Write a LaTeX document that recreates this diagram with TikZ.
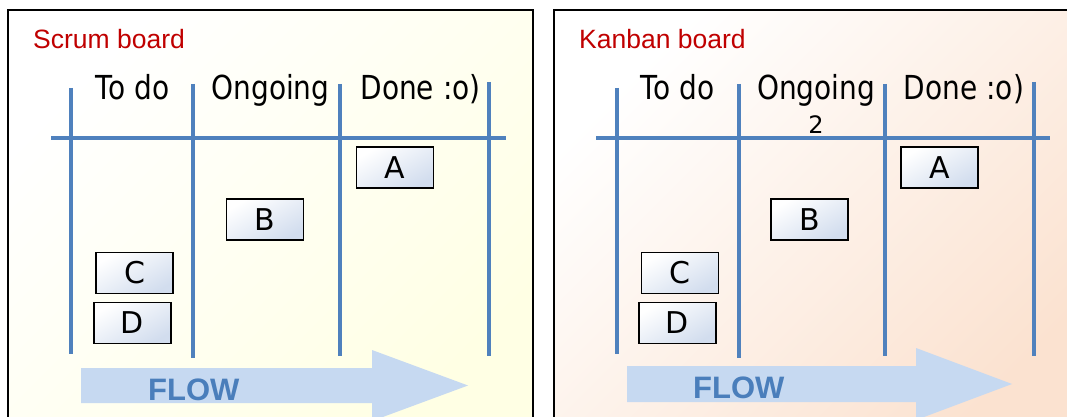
\documentclass[tikz,border=0pt]{standalone}
\usepackage{fontspec}
\setmainfont{DejaVu Sans}
\newfontfamily\arialfont{Liberation Sans}
\definecolor{lineblue}{RGB}{79,129,189}
\definecolor{arrowblue}{RGB}{198,217,241}
\definecolor{flowtext}{RGB}{74,126,187}
\definecolor{titlered}{RGB}{192,0,0}
\definecolor{bgyellow}{RGB}{255,255,228}
\definecolor{bgpeach}{RGB}{251,226,208}
\definecolor{cardblue}{RGB}{210,221,238}
\newcommand{\tallText}[1]{\scalebox{1}[1.18]{#1}}
\begin{document}
\begin{tikzpicture}[x=1pt,y=-1pt,
  gridline/.style={draw=lineblue,line width=3.2pt},
  header/.style={anchor=base,font=\fontsize{28}{30}\selectfont,inner sep=0pt},
  card/.style={draw=black,line width=1.6pt,minimum width=77pt,minimum height=41pt,inner sep=0pt,
    top color=white,bottom color=cardblue,shading angle=30,font=\fontsize{30}{32}\selectfont},
  boardtitle/.style={anchor=base west,inner sep=0pt,text=titlered,font=\arialfont\fontsize{26.5}{28}\selectfont},
  flowarrow/.style={fill=arrowblue,draw=none},
  flowlabel/.style={anchor=base west,inner sep=0pt,text=flowtext,font=\arialfont\bfseries\fontsize{31}{33}\selectfont}]
\useasboundingbox (0,0) rectangle (1067,417);
\clip (0,0) rectangle (1067,417);
\fill[white] (0,0) rectangle (1067,417);
% panels
\shade[left color=white,right color=bgyellow,shading angle=45] (8,10) rectangle (533,430);
\draw[line width=1.5pt] (8,440) -- (8,10) -- (533,10) -- (533,440);
\shade[left color=white,right color=bgpeach,shading angle=45] (554,10) rectangle (1100,430);
\draw[line width=1.5pt] (554,440) -- (554,10) -- (1100,10);
% titles
\node[boardtitle] (t1) at (33,49) {Scrum board};
\node[boardtitle] (t2) at (579,49) {Kanban board};
% ---------- left board
\draw[gridline] (71,88) -- (71,354);
\draw[gridline] (193,84) -- (193,358);
\draw[gridline] (340,84) -- (340,356);
\draw[gridline] (489,82) -- (489,356);
\draw[gridline] (51,138) -- (506,138);
\node[header] (h1) at (132.5,100) {\tallText{To do}};
\node[header] (h2) at (270.5,100) {\tallText{Ongoing}};
\node[header] (h3) at (420.5,100) {\tallText{Done :o)}};
\node[card] (a1) at (395,167.5) {A};
\node[card] (b1) at (265,219.5) {B};
\node[card] (c1) at (134.5,273) {C};
\node[card] (d1) at (132.5,323) {D};
\fill[flowarrow] (81,368) -- (372,368) -- (372,350) -- (468,385.5) -- (372,421) -- (372,403) -- (81,403) -- cycle;
\node[flowlabel] (f1) at (148,400) {FLOW};
% ---------- right board
\draw[gridline] (617,88) -- (617,354);
\draw[gridline] (739,84) -- (739,358);
\draw[gridline] (885,84) -- (885,356);
\draw[gridline] (1034,82) -- (1034,356);
\draw[gridline] (596,138) -- (1050,138);
\node[header] (h4) at (677.5,100) {\tallText{To do}};
\node[header] (h5) at (816,100) {\tallText{Ongoing}};
\node[header] (h6) at (964,100) {\tallText{Done :o)}};
\node[anchor=base,inner sep=0pt,font=\fontsize{24}{26}\selectfont] (lim) at (816,133) {2};
\node[card] (a2) at (939.5,167.5) {A};
\node[card] (b2) at (809.5,219.5) {B};
\node[card] (c2) at (680,273) {C};
\node[card] (d2) at (677.5,323) {D};
\fill[flowarrow] (627,366) -- (916,366) -- (916,348) -- (1012,384) -- (916,420) -- (916,402) -- (627,402) -- cycle;
\node[flowlabel] (f2) at (693,398) {FLOW};
\end{tikzpicture}
\end{document}
